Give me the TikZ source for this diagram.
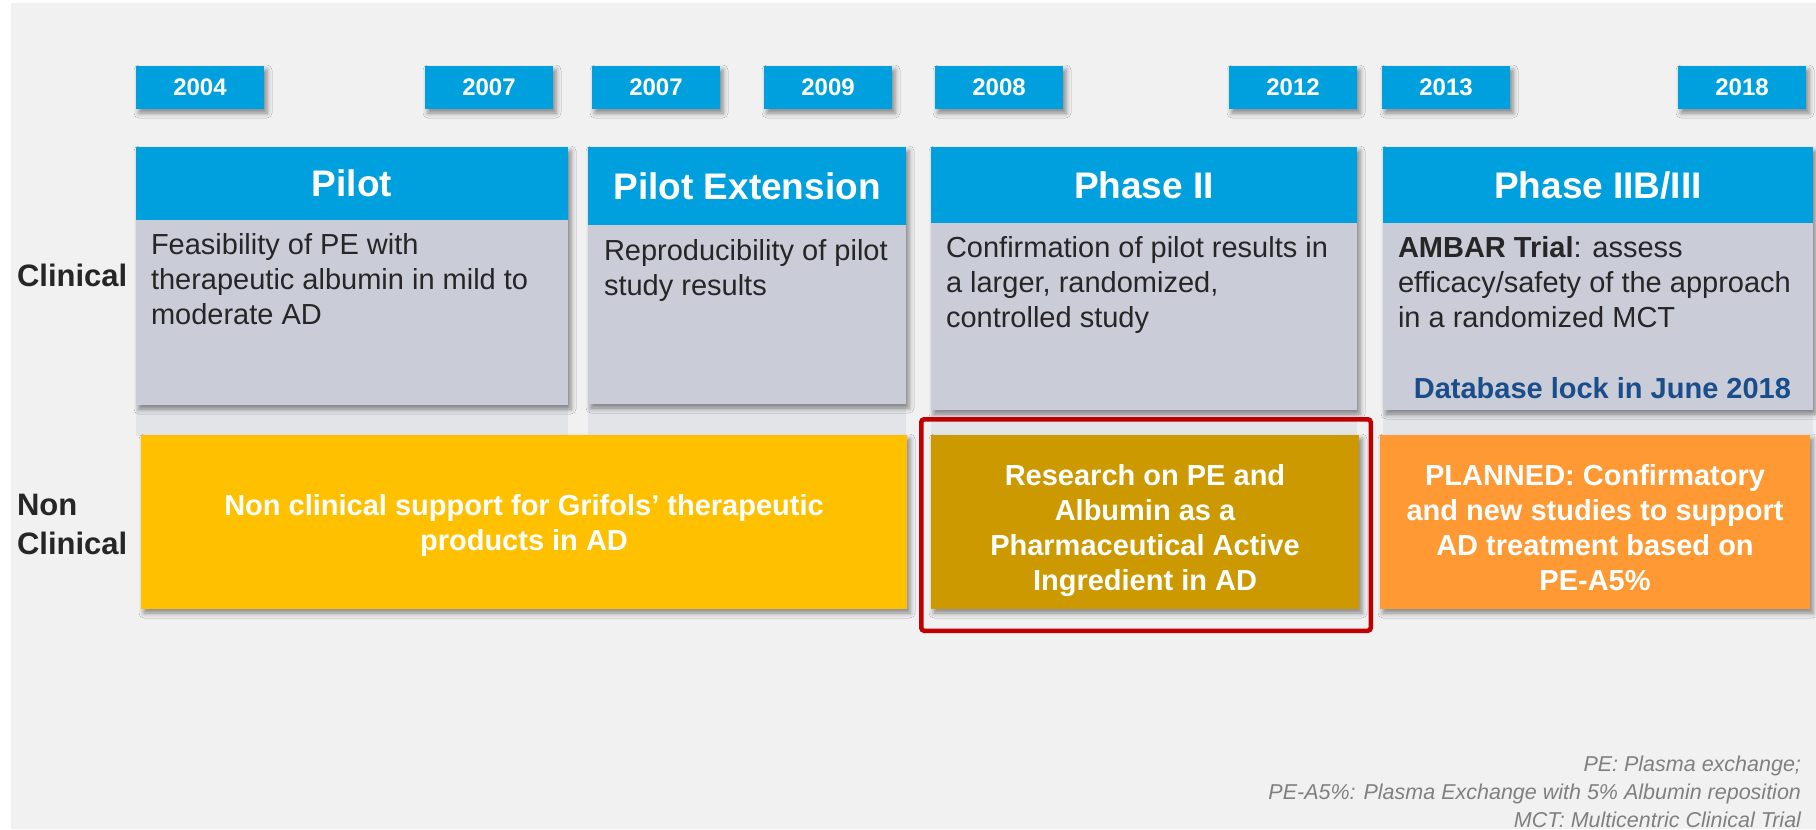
\documentclass[tikz,border=0pt]{standalone}
\usepackage{fontspec}
\setmainfont{Liberation Sans}
\usetikzlibrary{shadows.blur}
\definecolor{bg}{HTML}{F1F1F1}
\definecolor{hdr}{HTML}{00A0DF}
\definecolor{bodyg}{RGB}{202,204,216}
\definecolor{band}{RGB}{227,228,232}
\definecolor{yel}{HTML}{FFC000}
\definecolor{gold}{HTML}{CC9900}
\definecolor{orng}{HTML}{FF9933}
\definecolor{frame}{HTML}{C00000}
\definecolor{dblue}{RGB}{26,78,138}
\definecolor{txt}{RGB}{38,38,38}
\definecolor{note}{HTML}{808080}
\tikzset{
  box/.style={rectangle, inner sep=0pt, outer sep=0pt, anchor=north west},
  shad/.style={blur shadow={shadow xshift=3pt, shadow yshift=-4pt, shadow blur radius=5pt, shadow opacity=45}},
  year/.style={box, fill=hdr, shad, minimum width=128pt, minimum height=43pt, text=white, font=\fontsize{24}{28}\selectfont\bfseries},
  colbody/.style={box, fill=bodyg, shad},
  colband/.style={box, fill=band},
  colhead/.style={box, fill=hdr, text=white, font=\fontsize{37}{44}\selectfont\bfseries},
  bodytext/.style={inner sep=0pt, outer sep=0pt, anchor=north west, align=left, text=txt, font=\fontsize{29}{35}\selectfont},
  noncl/.style={box, shad, minimum height=174pt},
  nontext/.style={inner sep=0pt, outer sep=0pt, anchor=north, align=center, text=white, font=\fontsize{29}{35}\selectfont\bfseries},
  rowlabel/.style={inner sep=0pt, outer sep=0pt, align=left, text=txt, font=\fontsize{31}{39}\selectfont\bfseries},
  footnote/.style={inner sep=0pt, outer sep=0pt, anchor=north east, align=right, text=note, font=\fontsize{21.5}{28}\selectfont\itshape},
}
\begin{document}
\begin{tikzpicture}[x=1pt, y=-1pt]
\useasboundingbox (0,0) rectangle (1816,830);
\fill[white] (0,0) rectangle (1816,830);
\fill[bg] (11,3) rectangle (1816,829);

% year boxes
\node[year] (y2004) at (136,66) {2004};
\node[year] (y2007a) at (425,66) {2007};
\node[year] (y2007b) at (592,66) {2007};
\node[year] (y2009) at (764,66) {2009};
\node[year] (y2008) at (935,66) {2008};
\node[year] (y2012) at (1229,66) {2012};
\node[year] (y2013) at (1382,66) {2013};
\node[year] (y2018) at (1678,66) {2018};

% bands below clinical columns
\node[colband, minimum width=432pt, minimum height=31pt] (band1) at (136,405) {};
\node[colband, minimum width=318pt, minimum height=32pt] (band2) at (588,404) {};
\node[colband, minimum width=426pt, minimum height=26pt] (band3) at (931,410) {};
\node[colband, minimum width=430pt, minimum height=26pt] (band4) at (1383,410) {};

% column bodies
\node[colbody, minimum width=432pt, minimum height=258pt] (body1) at (136,147) {};
\node[colbody, minimum width=318pt, minimum height=257pt] (body2) at (588,147) {};
\node[colbody, minimum width=426pt, minimum height=263pt] (body3) at (931,147) {};
\node[colbody, minimum width=430pt, minimum height=263pt] (body4) at (1383,147) {};

% column headers
\node[colhead, minimum width=432pt, minimum height=73pt] (head1) at (136,147) {Pilot};
\node[colhead, minimum width=318pt, minimum height=78pt] (head2) at (588,147) {Pilot Extension};
\node[colhead, minimum width=426pt, minimum height=76pt] (head3) at (931,147) {Phase II};
\node[colhead, minimum width=430pt, minimum height=76pt] (head4) at (1383,147) {Phase IIB/III};

% body texts
\node[bodytext] (text1) at (151,233) {Feasibility of PE with\\therapeutic albumin in mild to\\moderate AD};
\node[bodytext] (text2) at (604,239) {Reproducibility of pilot\\study results};
\node[bodytext] (text3) at (946,236) {Confirmation of pilot results in\\a larger, randomized,\\controlled study};
\node[bodytext] (text4) at (1398,236) {\textbf{AMBAR Trial}: assess\\efficacy/safety of the approach\\in a randomized MCT};
\node[inner sep=0pt, outer sep=0pt, anchor=base east, text=dblue, font=\fontsize{29}{35}\selectfont\bfseries] (lock) at (1791,398) {Database lock in June 2018};

% row labels
\node[rowlabel, anchor=base west] (clin) at (17,286) {Clinical};
\node[rowlabel, anchor=north west] (nonclin) at (17,494) {Non\\Clinical};

% non clinical boxes
\node[noncl, fill=yel, minimum width=766pt] (ncl1) at (141,435) {};
\node[noncl, fill=gold, minimum width=428pt] (ncl2) at (931,435) {};
\node[noncl, fill=orng, minimum width=430pt] (ncl3) at (1380,435) {};
\node[nontext] (ncl1t) at (524,494) {Non clinical support for Grifols’ therapeutic\\products in AD};
\node[nontext] (ncl2t) at (1145,464) {Research on PE and\\Albumin as a\\Pharmaceutical Active\\Ingredient in AD};
\node[nontext] (ncl3t) at (1595,464) {PLANNED: Confirmatory\\and new studies to support\\AD treatment based on\\PE-A5\%};

% highlight frame
\node[rectangle, draw=frame, line width=4.5pt, rounded corners=3pt, inner sep=0pt, outer sep=0pt, minimum width=449.5pt, minimum height=211.5pt] (frame) at (1146,525) {};

% footnotes
\node[footnote] (notes) at (1801,756) {PE: Plasma exchange;\\PE-A5\%: Plasma Exchange with 5\% Albumin reposition\\MCT: Multicentric Clinical Trial};
\end{tikzpicture}
\end{document}
